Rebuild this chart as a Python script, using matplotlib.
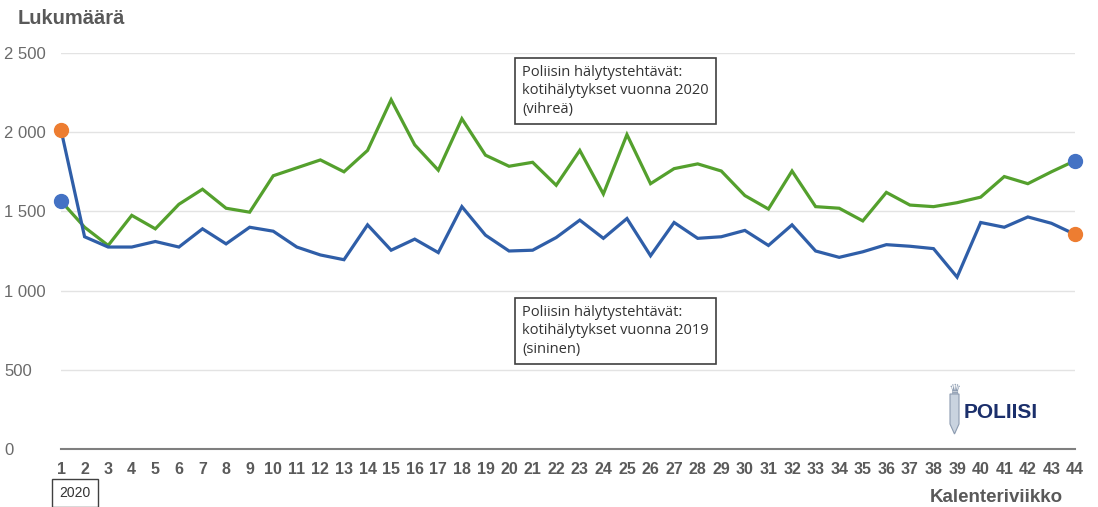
import matplotlib.pyplot as plt
from matplotlib.patches import Polygon

plt.rcParams['font.family'] = ['Liberation Sans', 'DejaVu Sans']

# Calendar weeks
weeks = list(range(1, 45))

# Home alarm tasks 2020 (green)
calls_2020 = [1565, 1400, 1285, 1475, 1390, 1545, 1640, 1520, 1495, 1725,
              1775, 1825, 1750, 1885, 2205, 1920, 1760, 2085, 1855, 1785,
              1810, 1665, 1885, 1610, 1985, 1675, 1770, 1800, 1755, 1600,
              1515, 1755, 1530, 1520, 1440, 1620, 1540, 1530, 1555, 1590,
              1720, 1675, 1750, 1820]

# Home alarm tasks 2019 (blue)
calls_2019 = [2015, 1340, 1275, 1275, 1310, 1275, 1390, 1295, 1400, 1375,
              1275, 1225, 1195, 1415, 1255, 1325, 1240, 1530, 1350, 1250,
              1255, 1335, 1445, 1330, 1455, 1220, 1430, 1330, 1340, 1380,
              1285, 1415, 1250, 1210, 1245, 1290, 1280, 1265, 1085, 1430,
              1400, 1465, 1425, 1355]

y_ticks = [0, 500, 1000, 1500, 2000, 2500]
y_labels = ['0', '500', '1 000', '1 500', '2 000', '2 500']

W, H = 1098, 507
fig = plt.figure(figsize=(W / 100, H / 100), dpi=100)
ax = fig.add_axes([61 / W, 1 - 449 / H, (1075 - 61) / W, (449 - 53) / H])

green = '#54a02d'
blue = '#2f5ea8'
ax.plot(weeks, calls_2020, color=green, lw=2.3, solid_joinstyle='miter', zorder=3)
ax.plot(weeks, calls_2019, color=blue, lw=2.3, solid_joinstyle='miter', zorder=4)

# end point dots
ax.plot(weeks[0], calls_2019[0], 'o', color='#ed7d31', ms=10, zorder=5, clip_on=False)
ax.plot(weeks[0], calls_2020[0], 'o', color='#4472c4', ms=10, zorder=5, clip_on=False)
ax.plot(weeks[-1], calls_2020[-1], 'o', color='#4472c4', ms=10, zorder=5, clip_on=False)
ax.plot(weeks[-1], calls_2019[-1], 'o', color='#ed7d31', ms=10, zorder=5, clip_on=False)

ax.set_xlim(1, 44)
ax.set_ylim(0, 2500)
ax.set_xticks(weeks)
ax.set_xticklabels([str(w) for w in weeks], fontsize=11.5, fontweight='bold', color='#5a5a5a')
ax.set_yticks(y_ticks)
ax.set_yticklabels(y_labels, fontsize=12, color='#6a6a6a', ha='left')
ax.tick_params(axis='y', length=0, pad=41)
ax.tick_params(axis='x', length=0, pad=9)
ax.grid(axis='y', color='#e3e3e3', lw=1)
ax.set_axisbelow(True)
for s in ['top', 'right', 'left']:
    ax.spines[s].set_visible(False)
ax.spines['bottom'].set_color('#7f7f7f')
ax.spines['bottom'].set_linewidth(1.5)
ax.spines['bottom'].set_zorder(6)

fig.text(18 / W, 1 - 19 / H, 'Lukumäärä', fontsize=14.5, fontweight='bold',
         color='#595959', va='center', ha='left')
fig.text(1063 / W, 1 - 497 / H, 'Kalenteriviikko', fontsize=13.5, fontweight='bold',
         color='#595959', va='center', ha='right')

# year box under the first weeks
fig.text(75 / W, 1 - 493 / H, '2020', fontsize=10, color='#333333', ha='center', va='center',
         bbox=dict(boxstyle='square,pad=0.5', fc='white', ec='#404040', lw=1))

box = dict(boxstyle='square,pad=0.5', fc='white', ec='#404040', lw=1.2)
fig.text(522 / W, 1 - 91 / H,
         'Poliisin hälytystehtävät:\nkotihälytykset vuonna 2020\n(vihreä)',
         fontsize=10.5, family=['Open Sans', 'DejaVu Sans'], color='#333333',
         va='center', ha='left', linespacing=1.3, bbox=box)
fig.text(522 / W, 1 - 331 / H,
         'Poliisin hälytystehtävät:\nkotihälytykset vuonna 2019\n(sininen)',
         fontsize=10.5, family=['Open Sans', 'DejaVu Sans'], color='#333333',
         va='center', ha='left', linespacing=1.3, bbox=box)

# simple police logo
sword = Polygon([[950 / W, 1 - 394 / H], [959 / W, 1 - 394 / H], [959 / W, 1 - 424 / H],
                 [954.5 / W, 1 - 434 / H], [950 / W, 1 - 424 / H]],
                closed=True, transform=fig.transFigure, fc='#c9d3df', ec='#8c9bb0', lw=0.8)
fig.patches.append(sword)
fig.text(954.5 / W, 1 - 390 / H, '♛', fontsize=10, color='#8c9bb0', ha='center', va='center')
fig.text(964 / W, 1 - 412 / H, 'POLIISI', fontsize=15, fontweight='bold',
         color='#1b2f6b', ha='left', va='center')

fig.savefig('out.png', dpi=100)
